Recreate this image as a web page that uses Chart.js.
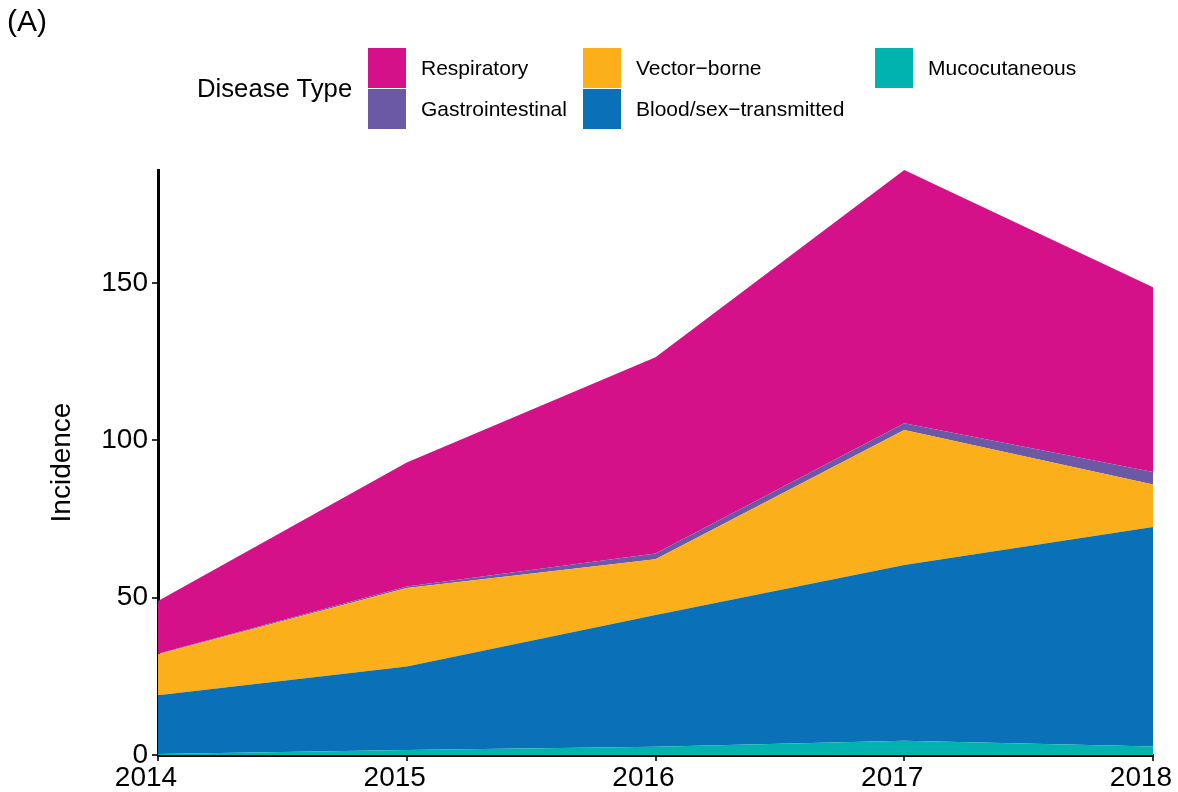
<!DOCTYPE html>
<html>
<head>
<meta charset="utf-8">
<script src="https://cdn.jsdelivr.net/npm/chart.js@4"></script>
<style>
  body { margin: 0; background: #fff; font-family: "Liberation Sans", Arial, sans-serif; }
  #wrap { position: relative; width: 1178px; height: 792px; }
  #chart { position: absolute; left: 0; top: 0; }
  .tag { position: absolute; left: 7px; top: 4px; font-size: 30px; color: #000; }
  .ltitle { position: absolute; left: 197px; top: 74px; font-size: 25.7px; color: #000; }
  .key { position: absolute; width: 38px; height: 40px; }
  .klab { position: absolute; font-size: 21px; color: #000; line-height: 40px; }
</style>
</head>
<body>
<div id="wrap">
  <canvas id="chart" width="1178" height="792"></canvas>
  <div class="tag">(A)</div>
  <div class="ltitle">Disease Type</div>
  <div id="legend"></div>
</div>
<script>
// ─── data (bottom layer first) ───────────────────────────────────────────────
const years = ["2014", "2015", "2016", "2017", "2018"];
const mucocutaneous = [0.3, 1.6, 2.6, 4.5, 2.7];
const bloodSex      = [18.7, 26.5, 41.9, 55.9, 69.8];
const vectorBorne   = [13.0, 25.0, 17.7, 42.9, 13.5];
const gastro        = [0.2, 0.5, 1.9, 2.2, 4.0];
const respiratory   = [16.8, 39.4, 62.4, 80.5, 58.7];
const yTicks = [0, 50, 100, 150];

const layers = [
  { label: "Mucocutaneous", data: mucocutaneous, color: "#00B3AE" },
  { label: "Blood/sex\u2212transmitted", data: bloodSex, color: "#0A71B9" },
  { label: "Vector\u2212borne", data: vectorBorne, color: "#FBAF1A" },
  { label: "Gastrointestinal", data: gastro, color: "#6C59A6" },
  { label: "Respiratory", data: respiratory, color: "#D41189" },
];

// legend, ggplot style: two rows, filled by column
const legendSlots = [
  { name: "Respiratory", x: 368, y: 48 },
  { name: "Gastrointestinal", x: 368, y: 89 },
  { name: "Vector\u2212borne", x: 583, y: 48 },
  { name: "Blood/sex\u2212transmitted", x: 583, y: 89 },
  { name: "Mucocutaneous", x: 875, y: 48 },
];
const legendEl = document.getElementById("legend");
legendSlots.forEach(s => {
  const l = layers.find(d => d.label === s.name);
  legendEl.insertAdjacentHTML("beforeend",
    `<div class="key" style="left:${s.x}px;top:${s.y}px;background:${l.color}"></div>` +
    `<div class="klab" style="left:${s.x + 53}px;top:${s.y}px">${s.name}</div>`);
});

const tickFont = { family: "Liberation Sans", size: 28 };

new Chart(document.getElementById("chart"), {
  type: "line",
  data: {
    labels: years,
    datasets: layers.map((l, i) => ({
      label: l.label,
      data: l.data,
      backgroundColor: l.color,
      borderWidth: 0,
      pointRadius: 0,
      tension: 0,
      fill: i === 0 ? "origin" : "-1",
    })),
  },
  options: {
    responsive: false,
    animation: false,
    layout: { padding: { top: 170, right: 25, left: 0, bottom: 0 } },
    plugins: { legend: { display: false }, tooltip: { enabled: false } },
    scales: {
      x: {
        offset: false,
        grid: { drawOnChartArea: false, tickLength: 6, color: "#333", lineWidth: 2 },
        border: { display: true, color: "#000", width: 3 },
        ticks: { font: tickFont, color: "#000", padding: 0, maxRotation: 0, labelOffset: -12 },
        afterFit: s => { s.height = 37; s.paddingLeft = 0; s.paddingRight = 0; },
      },
      y: {
        stacked: true,
        min: 0,
        max: 186,
        grid: { drawOnChartArea: false, tickLength: 6, color: "#333", lineWidth: 2 },
        border: { display: true, color: "#000", width: 3 },
        ticks: { font: tickFont, color: "#000", padding: 4, stepSize: 50, includeBounds: false },
        afterBuildTicks: s => { s.ticks = yTicks.map(v => ({ value: v })); },
        title: { display: true, text: "Incidence", font: tickFont, color: "#000", padding: { top: 45, bottom: 0 } },
        afterFit: s => { s.width = 158; s.paddingTop = 0; s.paddingBottom = 0; },
      },
    },
  },
});
</script>
</body>
</html>
